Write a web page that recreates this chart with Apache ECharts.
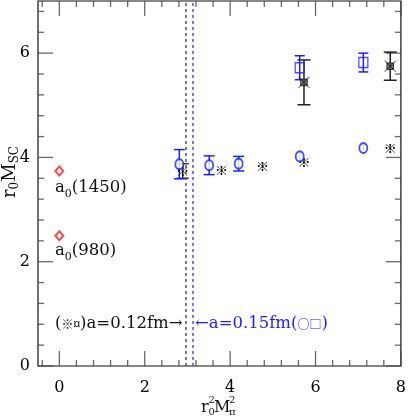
<!DOCTYPE html>
<html>
<head>
<meta charset="utf-8">
<script src="https://cdn.jsdelivr.net/npm/echarts@6/dist/echarts.min.js"></script>
<style>
html, body { margin: 0; padding: 0; background: #fff; }
#main { width: 409px; height: 417px; }
</style>
</head>
<body>
<div id="main"></div>
<script>
// a = 0.15 fm (blue): circles and squares
const circX = [2.81, 3.51, 4.20, 5.63, 7.12];
const circY = [3.87, 3.85, 3.88, 4.02, 4.18];
const circErr = [0.28, 0.18, 0.14, 0.06, 0.05];
const sqX = [5.63, 7.12];
const sqY = [5.72, 5.82];
const sqErr = [0.23, 0.18];
// a = 0.12 fm (black): stars and boxes
const starX = [2.89, 3.80, 4.76, 5.73, 7.75];
const starY = [3.74, 3.75, 3.83, 3.92, 4.18];
const starErr = [0.14, 0.04, 0.04, 0.04, 0.04];
const boxX = [5.73, 7.75];
const boxY = [5.44, 5.75];
const boxErr = [0.43, 0.27];
// experiment a0(1450), a0(980)
const expX = [0, 0];
const expY = [3.74, 2.50];
// dashed lines
const latticeLines = [2.95, 3.125];

const xRange = [-0.5, 8];
const yRange = [0, 7];
const xMajor = [0, 2, 4, 6, 8];
const xMinor = [-0.4, 0.4, 0.8, 1.2, 1.6, 2.4, 2.8, 3.2, 3.6, 4.4, 4.8, 5.2, 5.6, 6.4, 6.8, 7.2, 7.6];
const yMajor = [0, 2, 4, 6];
const yMinor = [0.4, 0.8, 1.2, 1.6, 2.4, 2.8, 3.2, 3.6, 4.4, 4.8, 5.2, 5.6, 6.4, 6.8];

const SERIF = 'DejaVu Serif';
const SYM = '"Noto Sans CJK SC", "DejaVu Sans"';
const BLUE = '#1e1eff';

const pts = (xs, ys) => xs.map((x, i) => [x, ys[i]]);
const bars = (xs, ys, es) => xs.map((x, i) => [x, ys[i] - es[i], ys[i] + es[i]]);

function errorSeries (data, color, cap) {
  return {
    type: 'custom',
    data: data,
    z: 3,
    encode: { x: 0, y: [1, 2] },
    renderItem: function (params, api) {
      const lo = api.coord([api.value(0), api.value(1)])
      const hi = api.coord([api.value(0), api.value(2)])
      const st = { stroke: color, lineWidth: 1.5 }
      const kids = [{ type: 'line', shape: { x1: hi[0], y1: hi[1], x2: lo[0], y2: lo[1] }, style: st }]
      if (lo[1] - hi[1] > 10) {
        kids.push({ type: 'line', shape: { x1: hi[0] - cap, y1: hi[1], x2: hi[0] + cap, y2: hi[1] }, style: st })
        kids.push({ type: 'line', shape: { x1: lo[0] - cap, y1: lo[1], x2: lo[0] + cap, y2: lo[1] }, style: st })
      }
      return { type: 'group', children: kids }
    }
  }
}

function glyphSeries (data, ch, size) {
  return {
    type: 'custom',
    data: data,
    z: 4,
    renderItem: function (params, api) {
      const c = api.coord([api.value(0), api.value(1)])
      return {
        type: 'text', x: c[0], y: c[1],
        style: { text: ch, font: size + 'px ' + SYM, fill: '#000', align: 'center', verticalAlign: 'middle' }
      }
    }
  }
}

// tick marks on the frame, drawn as thin rect symbols at the tick values
function ticks (data, size, offset) {
  return {
    type: 'scatter', silent: true, clip: false, z: 2,
    symbol: 'rect', symbolSize: size, symbolOffset: offset,
    itemStyle: { color: '#444' },
    data: data
  }
}
const onX = (vals, y) => vals.map(v => [v, y]);
const onY = (vals, x) => vals.map(v => [x, v]);

const sub = { fontSize: 11, lineHeight: 11, verticalAlign: 'bottom', fontFamily: SERIF }
const base = { fontSize: 16.5, lineHeight: 23, fontFamily: SERIF }

const myChart = echarts.init(document.getElementById('main'))
myChart.setOption({
  animation: false,
  backgroundColor: '#fff',
  grid: { left: 38, right: 5, top: 1, bottom: 51, show: true, borderColor: '#111', borderWidth: 1.2, backgroundColor: 'transparent' },
  xAxis: {
    type: 'value', min: xRange[0], max: xRange[1],
    axisLine: { show: false },
    axisTick: { show: false },
    axisLabel: { customValues: xMajor, margin: 14, fontFamily: SERIF, fontSize: 16, color: '#000' },
    splitLine: { show: false }
  },
  yAxis: {
    type: 'value', min: yRange[0], max: yRange[1],
    axisLine: { show: false },
    axisTick: { show: false },
    axisLabel: { customValues: yMajor, margin: 8, fontFamily: SERIF, fontSize: 16, color: '#000' },
    splitLine: { show: false }
  },
  series: [
    ticks(onX(xMajor, yRange[0]), [1.3, 15], [0, -7.5]),
    ticks(onX(xMinor, yRange[0]), [1.3, 6], [0, -3]),
    ticks(onX(xMajor, yRange[1]), [1.3, 15], [0, 7.5]),
    ticks(onX(xMinor, yRange[1]), [1.3, 6], [0, 3]),
    ticks(onY(yMajor, xRange[0]), [15, 1.3], [7.5, 0]),
    ticks(onY(yMinor, xRange[0]), [6, 1.3], [3, 0]),
    ticks(onY(yMajor, xRange[1]), [15, 1.3], [-7.5, 0]),
    ticks(onY(yMinor, xRange[1]), [6, 1.3], [-3, 0]),
    {
      type: 'scatter',
      data: [],
      z: 1,
      markLine: {
        silent: true,
        symbol: 'none',
        label: { show: false },
        lineStyle: { type: [3, 3], width: 1.5 },
        data: [
          { xAxis: latticeLines[0], lineStyle: { color: '#555' } },
          { xAxis: latticeLines[1], lineStyle: { color: '#4a4aff' } }
        ]
      }
    },
    errorSeries(bars(starX, starY, starErr), '#333', 6),
    errorSeries(bars(boxX, boxY, boxErr), '#222', 6.5),
    errorSeries(bars(circX, circY, circErr), BLUE, 5.5),
    errorSeries(bars(sqX, sqY, sqErr), BLUE, 5),
    {
      type: 'scatter', z: 5,
      data: pts(circX, circY),
      symbol: 'emptyCircle', symbolSize: [8, 10],
      itemStyle: { color: BLUE, borderColor: BLUE, borderWidth: 1.3 }
    },
    {
      type: 'scatter', z: 5,
      data: pts(sqX, sqY),
      symbol: 'rect', symbolSize: [9, 10],
      itemStyle: { color: 'rgba(0,0,0,0)', borderColor: BLUE, borderWidth: 1.3 }
    },
    glyphSeries(pts(starX, starY), '※', 13),
    {
      type: 'scatter', z: 5,
      data: pts(boxX, boxY),
      symbol: 'path://M0,0L10,10M10,0L0,10M2,2H8V8H2Z', symbolSize: 11,
      itemStyle: { color: '#555', borderColor: '#111', borderWidth: 1 }
    },
    {
      type: 'scatter', z: 5,
      data: pts(expX, expY),
      symbol: 'emptyDiamond', symbolSize: [8, 9],
      itemStyle: { color: '#ff1a1a', borderColor: '#ff1a1a', borderWidth: 1.2 }
    }
  ],
  graphic: [
    {
      type: 'text', x: 55, y: 188,
      style: { text: '{b|a}{s|0}{b|(1450)}', rich: { b: base, s: sub }, fill: '#111', verticalAlign: 'middle' }
    },
    {
      type: 'text', x: 55, y: 251,
      style: { text: '{b|a}{s|0}{b|(980)}', rich: { b: base, s: sub }, fill: '#111', verticalAlign: 'middle' }
    },
    {
      type: 'text', x: 55, y: 324,
      style: {
        text: '{b|(}{g|※¤}{b|)a=0.12fm→}',
        rich: { b: base, g: { fontSize: 12, fontFamily: SYM } },
        fill: '#111', verticalAlign: 'middle'
      }
    },
    {
      type: 'text', x: 195, y: 324,
      style: {
        text: '{b|←a=0.15fm(}{g|○□}{b|)}',
        rich: { b: base, g: { fontSize: 12, fontFamily: SYM } },
        fill: BLUE, verticalAlign: 'middle'
      }
    },
    {
      type: 'text', x: 10, y: 172, rotation: Math.PI / 2,
      style: {
        text: '{b|r}{s|0}{b|M}{s|SC}',
        rich: { b: { fontSize: 18, lineHeight: 22, fontFamily: SERIF }, s: { fontSize: 12, lineHeight: 12, verticalAlign: 'bottom', fontFamily: SERIF } },
        fill: '#111', align: 'center', verticalAlign: 'middle'
      }
    },
    { type: 'text', x: 201, y: 408, style: { text: 'r', font: '16px "DejaVu Serif"', fill: '#111', verticalAlign: 'middle' } },
    { type: 'text', x: 208.5, y: 400, style: { text: '2', font: '10px "DejaVu Serif"', fill: '#111', verticalAlign: 'middle' } },
    { type: 'text', x: 208.5, y: 412, style: { text: '0', font: '10px "DejaVu Serif"', fill: '#111', verticalAlign: 'middle' } },
    { type: 'text', x: 214, y: 408, style: { text: 'M', font: '16px "DejaVu Serif"', fill: '#111', verticalAlign: 'middle' } },
    { type: 'text', x: 229, y: 400, style: { text: '2', font: '10px "DejaVu Serif"', fill: '#111', verticalAlign: 'middle' } },
    { type: 'text', x: 229, y: 412, style: { text: 'π', font: '10px "DejaVu Serif"', fill: '#111', verticalAlign: 'middle' } }
  ]
})
window.addEventListener('resize', () => {
  myChart.resize()
})
</script>
</body>
</html>
